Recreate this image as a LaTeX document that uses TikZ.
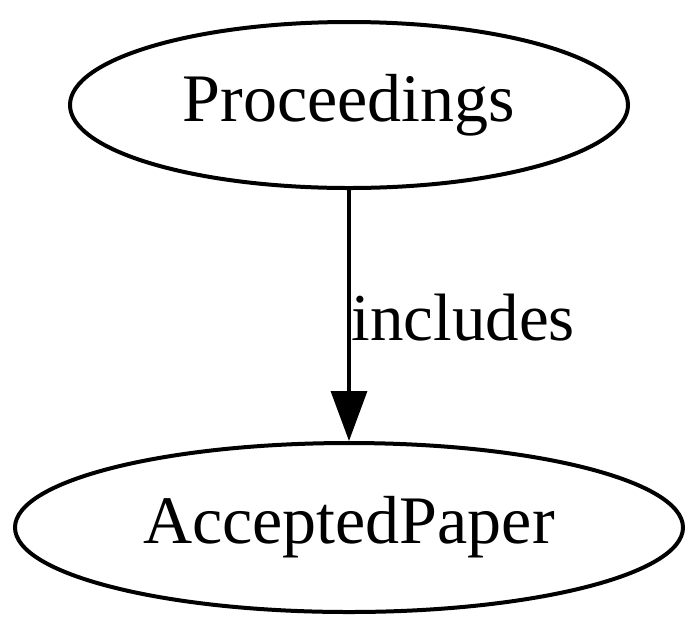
\documentclass[tikz,border=0pt]{standalone}
\usepackage{fontspec}
\setmainfont{Liberation Serif}
\usepackage{xcolor}
\usetikzlibrary{shapes.geometric,arrows.meta}
\definecolor{EdgeBlack}{RGB}{0,0,0}

\begin{document}
\begin{tikzpicture}[x=1pt,y=1pt,
    classnode/.style={draw=EdgeBlack,ellipse,line width=2pt,inner sep=0pt,
      font=\fontsize{34}{40}\selectfont},
    relarrow/.style={draw=EdgeBlack,line width=1.7pt,
      -{Triangle[length=25pt,width=18pt]}},
    rellabel/.style={anchor=west,inner sep=0.5pt,
      font=\fontsize{33.5}{40}\selectfont}]
  \useasboundingbox (0,0) rectangle (350,-316.5);
  \node[classnode,minimum width=279pt,minimum height=83pt] (proc) at (174.5,-52.5) {Proceedings};
  \node[classnode,minimum width=334pt,minimum height=84.5pt] (paper) at (174.5,-263.75) {AcceptedPaper};
  \draw[relarrow] (proc) -- node[rellabel,pos=0.51] (inclabel) {includes} (paper);
\end{tikzpicture}
\end{document}
